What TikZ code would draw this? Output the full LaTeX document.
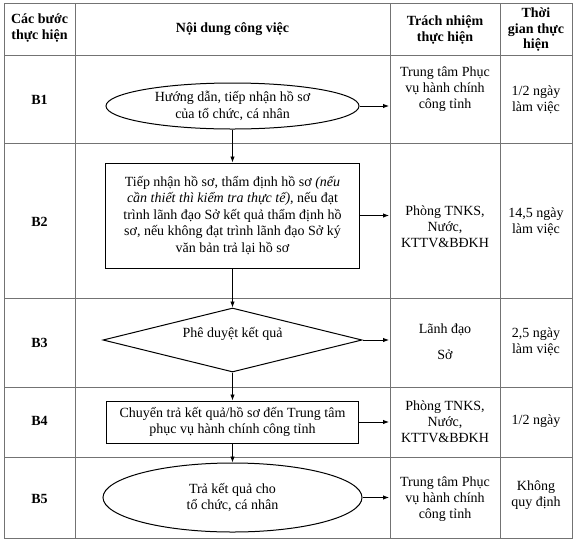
\documentclass[tikz,border=0pt]{standalone}
\usepackage{fontspec}
\setmainfont{Liberation Serif}
\usetikzlibrary{shapes.geometric,arrows.meta}
\tikzset{
  grid/.style={draw=black!55, line width=0.9pt},
  txt/.style={font=\fontsize{14}{16}\selectfont, align=center, inner sep=0pt},
  hdr/.style={txt, font=\fontsize{14}{15.5}\selectfont\bfseries},
  lbl/.style={txt, font=\fontsize{14}{16}\selectfont\bfseries},
  shp/.style={draw=black, line width=1pt, inner sep=0pt, align=center,
              font=\fontsize{14}{16.5}\selectfont},
  arr/.style={draw=black, line width=0.9pt, -{Latex[length=6pt,width=4.5pt]}}
}
\begin{document}
\begin{tikzpicture}[x=1pt,y=-1pt]
\useasboundingbox (0,0) rectangle (576,542);
\fill[white] (0,0) rectangle (576,542);
% table grid
\draw[grid] (4,3) rectangle (572,538);
\foreach \yy in {55,143,298,387,457} \draw[grid] (4,\yy) -- (572,\yy);
\foreach \xx in {75,390,500} \draw[grid] (\xx,3) -- (\xx,538);
% header
\node[hdr] (h1) at (39.5,28) {Các bước\\thực hiện};
\node[hdr] (h2) at (232.5,29) {Nội dung công việc};
\node[hdr] (h3) at (445,30) {Trách nhiệm\\thực hiện};
\node[hdr] (h4) at (536,30) {Thời\\gian thực\\hiện};
% step labels
\node[lbl] (l1) at (39.5,100) {B1};
\node[lbl] (l2) at (39.5,222) {B2};
\node[lbl] (l3) at (39.5,343) {B3};
\node[lbl] (l4) at (39.5,421) {B4};
\node[lbl] (l5) at (39.5,499) {B5};
% responsibility
\node[txt] (r1) at (445,89) {Trung tâm Phục\\vụ hành chính\\công tỉnh};
\node[txt] (r2) at (445,227) {Phòng TNKS,\\Nước,\\KTTV\&BĐKH};
\node[txt, font=\fontsize{14}{26}\selectfont] (r3) at (445,342) {Lãnh đạo\\Sở};
\node[txt] (r4) at (445,422) {Phòng TNKS,\\Nước,\\KTTV\&BĐKH};
\node[txt] (r5) at (445,499) {Trung tâm Phục\\vụ hành chính\\công tỉnh};
% time
\node[txt] (t1) at (536,100) {1/2 ngày\\làm việc};
\node[txt] (t2) at (536,222) {14,5 ngày\\làm việc};
\node[txt] (t3) at (536,342) {2,5 ngày\\làm việc};
\node[txt] (t4) at (536,421) {1/2 ngày};
\node[txt] (t5) at (536,495) {Không\\quy định};
% flow shapes
\node[shp, ellipse, minimum width=253pt, minimum height=46pt] (b1) at (232.5,106)
  {Hướng dẫn, tiếp nhận hồ sơ\\của tổ chức, cá nhân};
\node[shp, rectangle, minimum width=254pt, minimum height=105pt] (b2) at (232.5,215.5)
  {Tiếp nhận hồ sơ, thẩm định hồ sơ \textit{(nếu}\\\textit{cần thiết thì kiểm tra thực tế)}, nếu đạt\\trình lãnh đạo Sở kết quả thẩm định hồ\\sơ, nếu không đạt trình lãnh đạo Sở ký\\văn bản trả lại hồ sơ};
\node[shp, diamond, aspect=4.05, minimum width=259pt, minimum height=64pt] (b3) at (232.5,340)
  {\raisebox{3pt}[0pt][0pt]{Phê duyệt kết quả}};
\node[shp, rectangle, minimum width=252pt, minimum height=42pt] (b4) at (232.5,422)
  {Chuyển trả kết quả/hồ sơ đến Trung tâm\\phục vụ hành chính công tỉnh};
\node[shp, ellipse, minimum width=259pt, minimum height=69pt] (b5) at (232.5,497.5)
  {Trả kết quả cho\\tổ chức, cá nhân};
% column edge for horizontal arrows
\coordinate (edge) at (389,0);
\draw[arr] (b1.east) -- (b1.east -| edge);
\draw[arr] (b2.east) -- (b2.east -| edge);
\draw[arr] (b3.east) -- (b3.east -| edge);
\draw[arr] (b4.east) -- (b4.east -| edge);
\draw[arr] (b5.east) -- (b5.east -| edge);
% vertical flow
\draw[arr] (b1.south) -- (b2.north);
\draw[arr] (b2.south) -- (b3.north);
\draw[arr] (b3.south) -- (b4.north);
\draw[arr] (b4.south) -- (b5.north);
\end{tikzpicture}
\end{document}
